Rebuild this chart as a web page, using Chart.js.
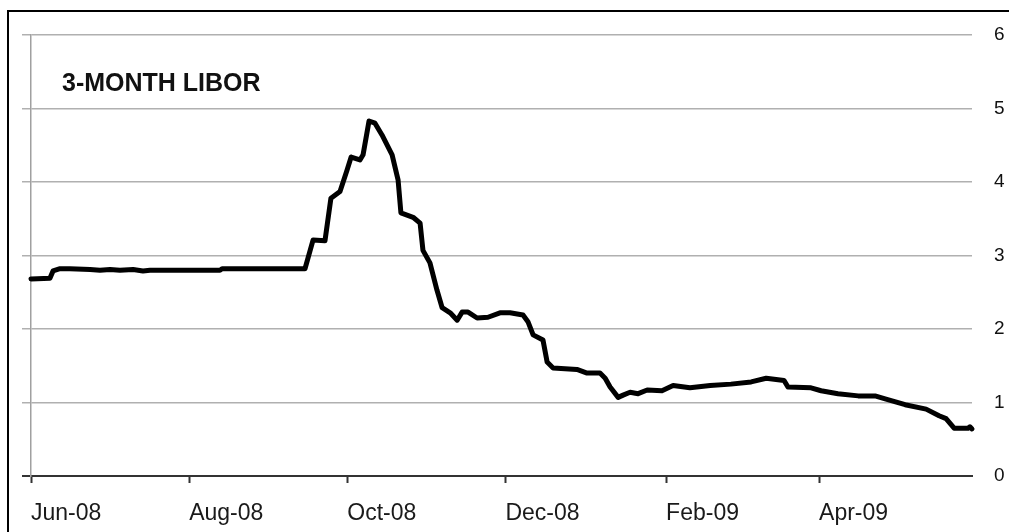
<!DOCTYPE html>
<html>
<head>
<meta charset="utf-8">
<title>3-Month LIBOR</title>
<script src="https://cdn.jsdelivr.net/npm/chart.js@4"></script>
<style>
  html, body { margin: 0; padding: 0; background: #fff; }
  #wrap { position: relative; width: 1009px; height: 532px; }
</style>
</head>
<body>
<div id="wrap"><canvas id="chart"></canvas></div>
<script>
"use strict";

// days counted from 1 Jun 2008
const dayIndex = [
    0, 7.3, 8.5, 11.2, 15, 22.8, 26.6, 30.5, 34.3, 39.4, 43.2, 45.9,
    72.9, 73.7, 105.7, 108.8, 113.4, 115.7, 119.2, 121.9, 123.5, 126.9, 128.1,
    130.4, 132.7, 135.4, 139.3, 141.6, 142.7, 147.4, 150.1, 151.2, 153.9,
    156.6, 158.6, 161.7, 164.4, 166.3, 168.6, 172.1, 176.3, 180.9, 184.8,
    189.8, 191.7, 193.7, 197.5, 199.1, 201.4, 210.6, 214.5, 219.5, 221.5,
    223.4, 226.5, 228.4, 231.1, 234.2, 237.7, 243.4, 247.7, 254.2, 262, 270,
    277.8, 283.6, 288.2, 290.5, 292, 300.9, 304.8, 311.3, 319.1, 325.6, 329.5,
    337.2, 345.3, 350.3, 353, 356.1, 361.5, 362.2, 363
];
const libor = [
    2.68, 2.69, 2.79, 2.82, 2.82, 2.81, 2.80, 2.81, 2.80, 2.81, 2.79, 2.80,
    2.80, 2.82, 2.82, 3.21, 3.20, 3.78, 3.87, 4.16, 4.34, 4.30, 4.37,
    4.83, 4.80, 4.64, 4.37, 4.03, 3.58, 3.52, 3.44, 3.07, 2.90,
    2.53, 2.29, 2.22, 2.12, 2.23, 2.23, 2.15, 2.16, 2.22, 2.22,
    2.19, 2.10, 1.92, 1.85, 1.55, 1.47, 1.45, 1.40, 1.40, 1.33,
    1.21, 1.07, 1.10, 1.14, 1.12, 1.17, 1.16, 1.23, 1.20, 1.23, 1.25,
    1.28, 1.33, 1.31, 1.30, 1.21, 1.20, 1.16, 1.12, 1.09, 1.09, 1.05,
    0.97, 0.91, 0.82, 0.78, 0.65, 0.65, 0.67, 0.64
];
const tickDays = [0, 61, 122, 183, 245, 304];
const tickLabels = ['Jun-08', 'Aug-08', 'Oct-08', 'Dec-08', 'Feb-09', 'Apr-09'];
const chartTitle = '3-MONTH LIBOR';

const FONT = "'Liberation Sans', Arial, sans-serif";

// black frame (left + top edges) and the title inside the plot
const framePlugin = {
    id: 'frame',
    beforeDraw(chart) {
        const ctx = chart.ctx;
        ctx.save();
        ctx.fillStyle = '#fff';
        ctx.fillRect(0, 0, chart.width, chart.height);
        ctx.strokeStyle = '#000';
        ctx.lineWidth = 2;
        ctx.beginPath();
        ctx.moveTo(8, chart.height);
        ctx.lineTo(8, 11);
        ctx.lineTo(chart.width, 11);
        ctx.stroke();
        ctx.restore();
    },
    afterDraw(chart) {
        const ctx = chart.ctx;
        ctx.save();
        ctx.fillStyle = '#111';
        ctx.font = "bold 25px " + FONT;
        ctx.textBaseline = 'alphabetic';
        ctx.fillText(chartTitle, 62, 91);
        ctx.restore();
    }
};

const points = dayIndex.map((d, i) => ({x: d, y: libor[i]}));

new Chart(document.getElementById('chart'), {
    type: 'line',
    data: {
        datasets: [{
            data: points,
            borderColor: '#000',
            borderWidth: 5,
            borderJoinStyle: 'round',
            borderCapStyle: 'round',
            pointRadius: 0,
            tension: 0,
            fill: false,
            clip: false,
        }]
    },
    plugins: [framePlugin],
    options: {
        responsive: true,
        maintainAspectRatio: false,
        animation: false,
        events: [],
        layout: {padding: {top: 35, left: 0, right: 0, bottom: 0}},
        plugins: {
            legend: {display: false},
            tooltip: {enabled: false},
        },
        scales: {
            x: {
                type: 'linear',
                min: 0,
                max: 363,
                afterBuildTicks: s => { s.ticks = tickDays.map(v => ({value: v})); },
                afterFit: s => { s.height = 56; },
                grid: {
                    drawOnChartArea: false,
                    drawTicks: true,
                    tickLength: 7,
                    tickColor: '#333',
                    tickWidth: 2,
                },
                border: {display: true, color: '#333', width: 2},
                ticks: {
                    autoSkip: false,
                    maxRotation: 0,
                    align: 'start',
                    padding: 17,
                    color: '#1a1a1a',
                    font: {family: FONT, size: 23},
                    callback: v => tickLabels[tickDays.indexOf(v)],
                },
            },
            y: {
                position: 'left',
                min: 0,
                max: 6,
                afterFit: s => { s.width = 31; },
                grid: {
                    color: c => (c.tick && c.tick.value === 0) ? '#333' : '#b0b0b0',
                    tickColor: c => (c.tick && c.tick.value === 0) ? '#333' : '#b0b0b0',
                    lineWidth: c => (c.tick && c.tick.value === 0) ? 2 : 1.5,
                    drawTicks: true,
                    tickLength: 9,
                },
                border: {display: true, color: '#a0a0a0', width: 1.5},
                ticks: {display: false, stepSize: 1},
            },
            y2: {
                position: 'right',
                min: 0,
                max: 6,
                afterFit: s => { s.width = 37; },
                grid: {display: false, drawTicks: false},
                border: {display: false},
                ticks: {
                    stepSize: 1,
                    padding: 22,
                    color: '#111',
                    font: {family: FONT, size: 19},
                },
            },
        },
    },
});
</script>
</body>
</html>
